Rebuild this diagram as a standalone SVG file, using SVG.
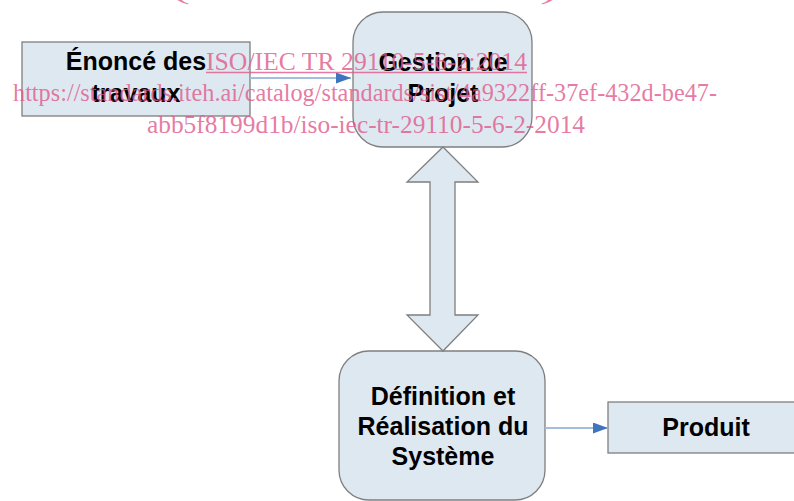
<svg xmlns="http://www.w3.org/2000/svg" width="794" height="501" viewBox="0 0 794 501">
  <defs>
    <style>
      .box { fill: #dee8f1; stroke: #7f7f7f; stroke-width: 1.3; }
      .lbl { font-family: "Liberation Sans", Arial, sans-serif; font-weight: bold; font-size: 25px; fill: #000; text-anchor: middle; }
      .conn { stroke: #a3bddd; stroke-width: 2; fill: none; }
      .wm { font-family: "Liberation Serif", "Times New Roman", serif; font-size: 26px; fill: #e0588a; fill-opacity: 0.8; }
    </style>
    <marker id="arr" viewBox="0 0 15 11" refX="15" refY="5.5" markerWidth="15" markerHeight="11" markerUnits="userSpaceOnUse" orient="auto">
      <path d="M0,0 L15,5.5 L0,11 z" fill="#3f74be"/>
    </marker>
  </defs>
  <rect width="794" height="501" fill="#ffffff"/>

  <g id="node-enonce">
    <rect class="box" x="22" y="42" width="228" height="74"/>
    <text class="lbl" x="136" y="70">Énoncé des</text>
    <text class="lbl" x="136" y="102">travaux</text>
  </g>

  <g id="node-gestion">
    <rect class="box" x="353" y="12" width="179" height="135" rx="30" ry="30"/>
    <text class="lbl" x="443" y="71">Gestion de</text>
    <text class="lbl" x="443" y="102">Projet</text>
  </g>

  <g id="node-definition">
    <rect class="box" x="339" y="351" width="206" height="149" rx="30" ry="30"/>
    <text class="lbl" x="443" y="405">Définition et</text>
    <text class="lbl" x="443" y="435">Réalisation du</text>
    <text class="lbl" x="443" y="465">Système</text>
  </g>

  <g id="node-produit">
    <rect class="box" x="608" y="402" width="190" height="51"/>
    <text class="lbl" x="706" y="436">Produit</text>
  </g>

  <g id="connectors">
    <polygon class="box" points="443,147 478,182 455,182 455,315 478,315 443,351 407,315 430,315 430,182 407,182"/>
    <line class="conn" x1="250" y1="78" x2="351" y2="78" marker-end="url(#arr)"/>
    <line class="conn" x1="545" y1="428" x2="608" y2="428" marker-end="url(#arr)"/>
  </g>

  <g id="watermark">
    <text class="wm" x="172" y="-1" font-size="54" textLength="386" lengthAdjust="spacingAndGlyphs">(standards.iteh.ai)</text>
    <text class="wm" x="206" y="70" textLength="321" lengthAdjust="spacingAndGlyphs">ISO/IEC TR 29110-5-6-2:2014</text>
    <line x1="206" y1="72.5" x2="527" y2="72.5" stroke="#e0588a" stroke-opacity="0.8" stroke-width="1.5"/>
    <text class="wm" x="13" y="101" textLength="704" lengthAdjust="spacingAndGlyphs">https://standards.iteh.ai/catalog/standards/sist/4a9322ff-37ef-432d-be47-</text>
    <text class="wm" x="147" y="133" textLength="438" lengthAdjust="spacingAndGlyphs">abb5f8199d1b/iso-iec-tr-29110-5-6-2-2014</text>
  </g>
</svg>
